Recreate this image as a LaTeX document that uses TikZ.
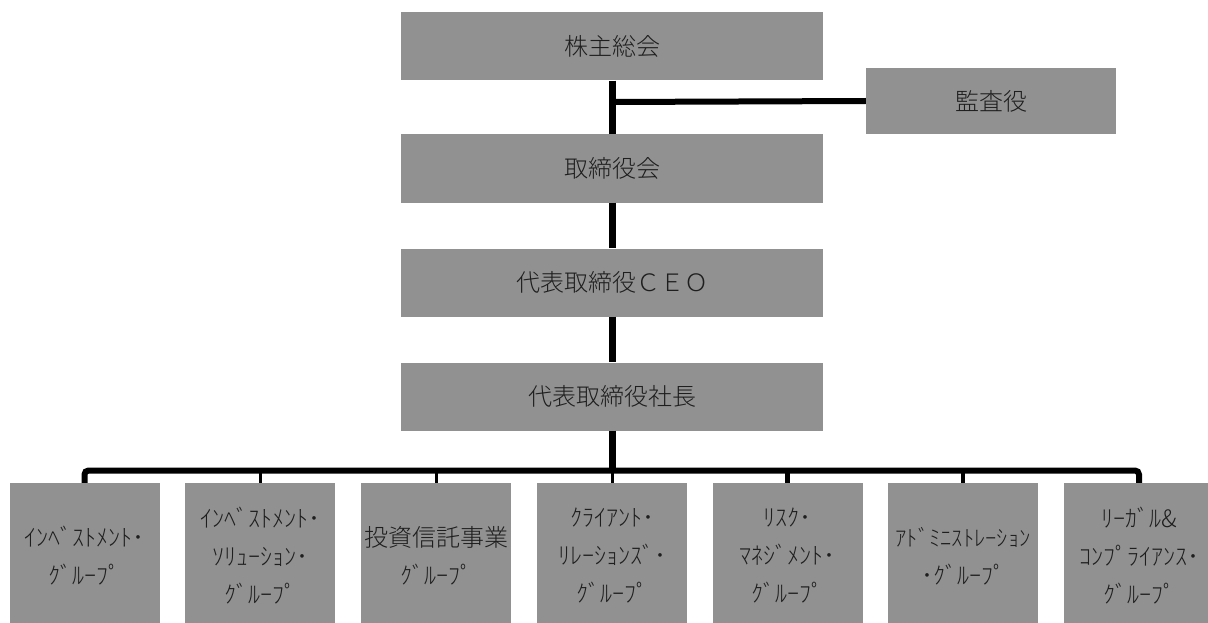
\documentclass[tikz,border=0pt]{standalone}
\usepackage{fontspec}
\newfontfamily\jp{Noto Sans CJK JP Light}
\definecolor{boxgray}{HTML}{919191}
\definecolor{txtcol}{HTML}{1E1E1E}
\begin{document}
\begin{tikzpicture}[x=1pt,y=-1pt,
  box/.style={fill=boxgray, inner sep=0pt, text=txtcol, align=center,
    font=\jp\fontsize{24}{38}\selectfont},
  topbox/.style={box, minimum width=422pt, minimum height=68pt},
  grp/.style={box, minimum width=150pt, minimum height=146pt},
  trunk/.style={line width=7pt},
  busline/.style={line width=6pt, rounded corners=4pt},
  thindrop/.style={line width=3pt},
  middrop/.style={line width=4.5pt}]
\useasboundingbox (0,0) rectangle (1208,623);
\clip (0,0) rectangle (1208,623);
% top chain
\node[topbox] (sh) at (612,46.5) {株主総会};
\node[box, minimum width=250pt, minimum height=66pt] (kan) at (991,101) {監査役};
\node[topbox] (tr) at (612,168.5) {取締役会};
\node[topbox] (ceo) at (612,282.5) {代表取締役ＣＥＯ};
\node[topbox] (sz) at (612,396.5) {代表取締役社長};
% groups
\node[grp] (g1) at (84.5,556) {ｲﾝﾍﾞｽﾄﾒﾝﾄ･\\ｸﾞﾙｰﾌﾟ};
\node[grp] (g2) at (260,556) {ｲﾝﾍﾞｽﾄﾒﾝﾄ･\\ｿﾘｭｰｼｮﾝ･\\ｸﾞﾙｰﾌﾟ};
\node[grp] (g3) at (436,556) {投資信託事業\\ｸﾞﾙｰﾌﾟ};
\node[grp] (g4) at (612,556) {ｸﾗｲｱﾝﾄ･\\ﾘﾚｰｼｮﾝｽﾞ･\\ｸﾞﾙｰﾌﾟ};
\node[grp] (g5) at (787.5,556) {ﾘｽｸ･\\ﾏﾈｼﾞﾒﾝﾄ･\\ｸﾞﾙｰﾌﾟ};
\node[grp] (g6) at (963,556) {{\fontsize{22.5}{38}\selectfont ｱﾄﾞﾐﾆｽﾄﾚｰｼｮﾝ}\\･ｸﾞﾙｰﾌﾟ};
\node[grp] (g7) at (1139,556) {ﾘｰｶﾞﾙ\&\\ｺﾝﾌﾟﾗｲｱﾝｽ･\\ｸﾞﾙｰﾌﾟ};
% connectors
\coordinate (j) at (612,102);
\coordinate (bus) at (612,470.5);
\draw[trunk] (sh.south) -- (tr.north);
\draw[line width=6pt] (j) -- (kan.west);
\draw[trunk] (tr.south) -- (ceo.north);
\draw[trunk] (ceo.south) -- (sz.north);
\draw[trunk] (sz.south) -- (bus);
\draw[busline] (g1.north) -- (g1.north |- bus) -- (g7.north |- bus) -- (g7.north);
\draw[thindrop] (g2.north) -- (g2.north |- bus);
\draw[thindrop] (g3.north) -- (g3.north |- bus);
\draw[thindrop] (g4.north) -- (bus);
\draw[middrop] (g5.north) -- (g5.north |- bus);
\draw[middrop] (g6.north) -- (g6.north |- bus);
\end{tikzpicture}
\end{document}
